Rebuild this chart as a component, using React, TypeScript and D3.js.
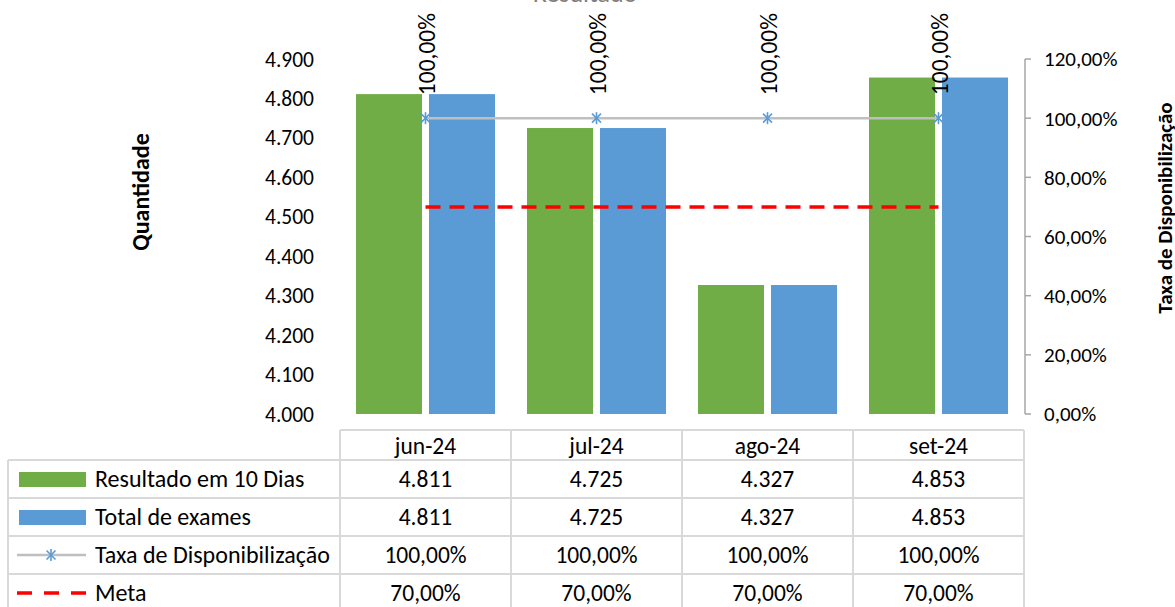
import React from "react";
import * as d3 from "d3";

const categories = ["jun-24", "jul-24", "ago-24", "set-24"];
const resultado10Dias = [4811, 4725, 4327, 4853];
const totalExames = [4811, 4725, 4327, 4853];
const taxaDisponibilizacao = [1.0, 1.0, 1.0, 1.0];
const meta = [0.7, 0.7, 0.7, 0.7];
const leftTicks = [4000, 4100, 4200, 4300, 4400, 4500, 4600, 4700, 4800, 4900];
const rightTicks = [0, 0.2, 0.4, 0.6, 0.8, 1.0, 1.2];
const seriesNames = ["Resultado em 10 Dias", "Total de exames", "Taxa de Disponibilização", "Meta"];

const W = 1175;
const H = 607;
const FONT = "Carlito, Calibri, Lato, 'Open Sans', sans-serif";
const GREEN = "#70AD47";
const BLUE = "#5B9BD5";
const GREY_LINE = "#BFBFBF";
const RED = "#FF0000";
const BORDER = "#D9D9D9";

const fmtInt = (v: number) => d3.format(",")(v).replace(/,/g, ".");
const fmtPct = (v: number) => (v * 100).toFixed(2).replace(".", ",") + "%";

function Star({ x, y, size = 6 }: { x: number; y: number; size?: number }) {
  const s = size;
  const d = s * 0.75;
  return (
    <g stroke={BLUE} strokeWidth={1.6}>
      <line x1={x} y1={y - s} x2={x} y2={y + s} />
      <line x1={x - d} y1={y - d} x2={x + d} y2={y + d} />
      <line x1={x - d} y1={y + d} x2={x + d} y2={y - d} />
    </g>
  );
}

export default function App() {
  const plotLeft = 340;
  const plotRight = 1024;
  const plotTop = 59;
  const plotBottom = 414;

  const x = d3.scaleBand<string>().domain(categories).range([plotLeft, plotRight]).paddingInner(0).paddingOuter(0);
  const sub = d3
    .scaleBand<string>()
    .domain(["r", "t"])
    .range([0, x.bandwidth()])
    .paddingInner(0.096)
    .paddingOuter(0.219);
  const yL = d3.scaleLinear().domain([4000, 4900]).range([plotBottom, plotTop]);
  const yR = d3.scaleLinear().domain([0, 1.2]).range([plotBottom, plotTop]);

  const cx = (c: string) => (x(c) as number) + x.bandwidth() / 2;

  const lineGen = d3
    .line<number>()
    .x((_, i) => cx(categories[i]))
    .y((d) => yR(d));

  // table geometry
  const tableTop = 430;
  const headerH = 30;
  const rowH = 38;
  const legendLeft = 8;
  const colEdges = [plotLeft, ...categories.map((c) => (x(c) as number) + x.bandwidth())];
  const rows = [
    resultado10Dias.map(fmtInt),
    totalExames.map(fmtInt),
    taxaDisponibilizacao.map(fmtPct),
    meta.map(fmtPct),
  ];
  const rowTop = (i: number) => tableTop + headerH + i * rowH;
  const TABLE_FS = 23.5;
  const LEGEND_FS = 24;

  return (
    <svg width={W} height={H} style={{ position: "absolute", left: 0, top: 0, background: "#fff" }} fontFamily={FONT}>
      <rect x={0} y={0} width={W} height={H} fill="#fff" />
      {/* title, mostly above the visible area */}
      <text x={585} y={2} textAnchor="middle" fontSize={26} fill="#7F7F7F">
        Resultado
      </text>

      {/* bars */}
      {categories.map((c, i) => (
        <g key={c}>
          <rect
            x={(x(c) as number) + (sub("r") as number)}
            y={yL(resultado10Dias[i])}
            width={sub.bandwidth()}
            height={plotBottom - yL(resultado10Dias[i])}
            fill={GREEN}
          />
          <rect
            x={(x(c) as number) + (sub("t") as number)}
            y={yL(totalExames[i])}
            width={sub.bandwidth()}
            height={plotBottom - yL(totalExames[i])}
            fill={BLUE}
          />
        </g>
      ))}

      {/* meta dashed line */}
      <path d={lineGen(meta) || ""} fill="none" stroke={RED} strokeWidth={3.5} strokeDasharray="15 9" />

      {/* taxa line */}
      <path d={lineGen(taxaDisponibilizacao) || ""} fill="none" stroke={GREY_LINE} strokeWidth={2.5} />
      {taxaDisponibilizacao.map((v, i) => (
        <Star key={i} x={cx(categories[i])} y={yR(v)} />
      ))}
      {taxaDisponibilizacao.map((v, i) => (
        <text
          key={"lbl" + i}
          transform={`translate(${cx(categories[i]) + 1},${yR(v) - 23}) rotate(-90)`}
          fontSize={23.5}
          dy="0.35em"
          fill="#000"
        >
          {fmtPct(v)}
        </text>
      ))}

      {/* left axis labels */}
      {leftTicks.map((t) => (
        <text key={t} x={314} y={yL(t)} dy="0.35em" textAnchor="end" fontSize={21.5} fill="#000">
          {fmtInt(t)}
        </text>
      ))}
      <text transform={`translate(149,192) rotate(-90)`} textAnchor="middle" fontSize={24} fontWeight="bold" fill="#000">
        Quantidade
      </text>

      {/* right axis */}
      <line x1={1025} x2={1025} y1={plotTop} y2={plotBottom} stroke="#A6A6A6" strokeWidth={1.5} />
      {rightTicks.map((t) => (
        <g key={t}>
          <line x1={1025} x2={1031} y1={yR(t)} y2={yR(t)} stroke="#A6A6A6" strokeWidth={1.5} />
          <text x={1044} y={yR(t)} dy="0.35em" fontSize={21} fill="#000">
            {fmtPct(t)}
          </text>
        </g>
      ))}
      <text transform={`translate(1172,208) rotate(-90)`} textAnchor="middle" fontSize={21} fontWeight="bold" fill="#000">
        Taxa de Disponibilização
      </text>

      {/* data table */}
      <g stroke={BORDER} strokeWidth={2} fill="none">
        <line x1={plotLeft} x2={plotRight} y1={tableTop} y2={tableTop} />
        {[0, 1, 2, 3, 4].map((i) => (
          <line key={"h" + i} x1={legendLeft} x2={plotRight} y1={rowTop(i)} y2={rowTop(i)} />
        ))}
        <line x1={legendLeft} x2={legendLeft} y1={rowTop(0)} y2={H + 10} />
        {colEdges.map((e, i) => (
          <line key={"v" + i} x1={e} x2={e} y1={tableTop} y2={H + 10} />
        ))}
      </g>
      {categories.map((c) => (
        <text key={"hd" + c} x={cx(c)} y={tableTop + headerH / 2 + 1} dy="0.35em" textAnchor="middle" fontSize={TABLE_FS}>
          {c}
        </text>
      ))}
      {rows.map((r, ri) =>
        r.map((v, ci) => (
          <text
            key={ri + "-" + ci}
            x={cx(categories[ci])}
            y={rowTop(ri) + rowH / 2}
            dy="0.35em"
            textAnchor="middle"
            fontSize={TABLE_FS}
          >
            {v}
          </text>
        ))
      )}
      {/* legend keys */}
      <rect x={19} y={rowTop(0) + 12} width={67} height={15} fill={GREEN} />
      <rect x={19} y={rowTop(1) + 12} width={67} height={15} fill={BLUE} />
      <line x1={17} x2={86} y1={rowTop(2) + rowH / 2} y2={rowTop(2) + rowH / 2} stroke={GREY_LINE} strokeWidth={2.5} />
      <Star x={51} y={rowTop(2) + rowH / 2} />
      <line
        x1={17}
        x2={86}
        y1={rowTop(3) + rowH / 2}
        y2={rowTop(3) + rowH / 2}
        stroke={RED}
        strokeWidth={3.5}
        strokeDasharray="15 12"
      />
      {seriesNames.map((n, i) => (
        <text key={n} x={95} y={rowTop(i) + rowH / 2} dy="0.35em" fontSize={LEGEND_FS}>
          {n}
        </text>
      ))}
    </svg>
  );
}
